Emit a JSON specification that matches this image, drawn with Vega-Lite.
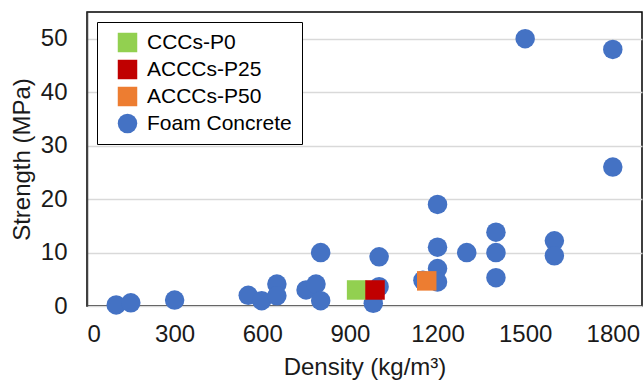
{
  "$schema": "https://vega.github.io/schema/vega-lite/v6.json",
  "width": 555,
  "height": 294,
  "autosize": {"type": "none"},
  "padding": {"left": 87, "top": 12, "right": 2, "bottom": 74},
  "background": "white",
  "config": {
    "font": "Liberation Sans",
    "view": {"stroke": "#000000", "strokeWidth": 1.5},
    "axis": {"labelFont": "Liberation Sans", "titleFont": "Liberation Sans", "labelColor": "#1a1a1a", "titleColor": "#1a1a1a", "titleFontWeight": "normal"}
  },
  "data": {
    "values": [
      {"density": 100, "strength": 0.2, "series": "Foam Concrete"},
      {"density": 150, "strength": 0.6, "series": "Foam Concrete"},
      {"density": 300, "strength": 1.1, "series": "Foam Concrete"},
      {"density": 552, "strength": 2.0, "series": "Foam Concrete"},
      {"density": 598, "strength": 1.0, "series": "Foam Concrete"},
      {"density": 650, "strength": 4.1, "series": "Foam Concrete"},
      {"density": 650, "strength": 1.9, "series": "Foam Concrete"},
      {"density": 750, "strength": 3.0, "series": "Foam Concrete"},
      {"density": 784, "strength": 4.1, "series": "Foam Concrete"},
      {"density": 800, "strength": 10, "series": "Foam Concrete"},
      {"density": 800, "strength": 1.0, "series": "Foam Concrete"},
      {"density": 1000, "strength": 9.2, "series": "Foam Concrete"},
      {"density": 1000, "strength": 3.6, "series": "Foam Concrete"},
      {"density": 980, "strength": 0.5, "series": "Foam Concrete"},
      {"density": 1150, "strength": 4.8, "series": "Foam Concrete"},
      {"density": 1200, "strength": 19, "series": "Foam Concrete"},
      {"density": 1200, "strength": 11, "series": "Foam Concrete"},
      {"density": 1200, "strength": 7.0, "series": "Foam Concrete"},
      {"density": 1200, "strength": 4.5, "series": "Foam Concrete"},
      {"density": 1300, "strength": 10, "series": "Foam Concrete"},
      {"density": 1400, "strength": 13.8, "series": "Foam Concrete"},
      {"density": 1400, "strength": 10, "series": "Foam Concrete"},
      {"density": 1400, "strength": 5.3, "series": "Foam Concrete"},
      {"density": 1500, "strength": 50, "series": "Foam Concrete"},
      {"density": 1600, "strength": 12.2, "series": "Foam Concrete"},
      {"density": 1600, "strength": 9.4, "series": "Foam Concrete"},
      {"density": 1800, "strength": 48, "series": "Foam Concrete"},
      {"density": 1800, "strength": 26, "series": "Foam Concrete"},
      {"density": 923, "strength": 3.0, "series": "CCCs-P0"},
      {"density": 986, "strength": 3.0, "series": "ACCCs-P25"},
      {"density": 1163, "strength": 4.7, "series": "ACCCs-P50"}
    ]
  },
  "encoding": {
    "x": {
      "field": "density", "type": "quantitative",
      "scale": {"domain": [0, 1900], "nice": false},
      "axis": {
        "title": "Density (kg/m³)", "values": [0, 300, 600, 900, 1200, 1500, 1800], "format": "d",
        "grid": false, "ticks": false, "domain": false,
        "labelFontSize": 24, "labelPadding": 16, "titleFontSize": 24, "titlePadding": 9
      }
    },
    "y": {
      "field": "strength", "type": "quantitative",
      "scale": {"domain": [0, 55], "nice": false},
      "axis": {
        "title": "Strength (MPa)", "values": [0, 10, 20, 30, 40, 50], "format": "d",
        "grid": true, "gridColor": "#d9d9d9", "gridWidth": 1.5,
        "ticks": false, "domain": true, "domainColor": "#404040", "domainWidth": 1.5,
        "labelFontSize": 24, "labelPadding": 20, "titleFontSize": 24, "titlePadding": 6
      }
    },
    "color": {
      "field": "series", "type": "nominal",
      "scale": {"domain": ["CCCs-P0", "ACCCs-P25", "ACCCs-P50", "Foam Concrete"], "range": ["#92D050", "#C00000", "#ED7D31", "#4472C4"]},
      "legend": {
        "title": null, "orient": "none", "legendX": 10, "legendY": 10,
        "strokeColor": "#000000", "fillColor": "#ffffff", "padding": 10,
        "symbolOffset": 10, "labelFontSize": 21, "labelColor": "#000000", "labelFont": "Liberation Sans",
        "rowPadding": 5, "labelOffset": 9, "symbolStrokeWidth": 0
      }
    },
    "shape": {
      "field": "series", "type": "nominal",
      "scale": {"domain": ["CCCs-P0", "ACCCs-P25", "ACCCs-P50", "Foam Concrete"], "range": ["square", "square", "square", "circle"]},
      "legend": {
        "title": null, "orient": "none", "legendX": 10, "legendY": 10,
        "strokeColor": "#000000", "fillColor": "#ffffff", "padding": 10,
        "symbolOffset": 10, "labelFontSize": 21, "labelColor": "#000000", "labelFont": "Liberation Sans",
        "rowPadding": 5, "labelOffset": 9, "symbolStrokeWidth": 0
      }
    },
    "size": {
      "field": "series", "type": "nominal",
      "scale": {"domain": ["CCCs-P0", "ACCCs-P25", "ACCCs-P50", "Foam Concrete"], "range": [380, 380, 380, 180]},
      "legend": {
        "title": null, "orient": "none", "legendX": 10, "legendY": 10,
        "strokeColor": "#000000", "fillColor": "#ffffff", "padding": 10,
        "symbolOffset": 10, "labelFontSize": 21, "labelColor": "#000000", "labelFont": "Liberation Sans",
        "rowPadding": 5, "labelOffset": 9, "symbolStrokeWidth": 0
      }
    }
  },
  "layer": [
    {
      "transform": [{"filter": "datum.series === 'Foam Concrete'"}],
      "mark": {"type": "point", "filled": true, "opacity": 1}
    },
    {
      "transform": [{"filter": "datum.series !== 'Foam Concrete'"}],
      "mark": {"type": "point", "filled": true, "opacity": 1}
    }
  ]
}
